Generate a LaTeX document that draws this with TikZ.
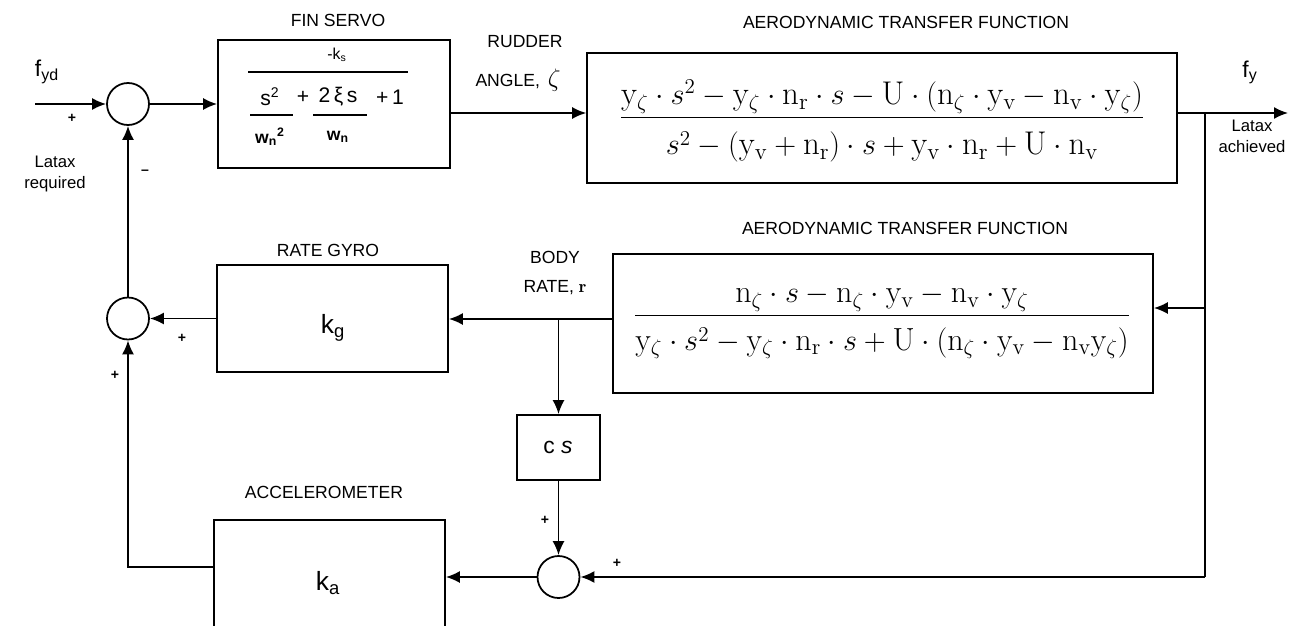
\documentclass[tikz,border=0pt]{standalone}
\usepackage{amsmath}
\usepackage{fontspec}
\setsansfont{Liberation Sans}
\usetikzlibrary{arrows.meta}
\newcommand{\rmy}[1]{\mathrm{y}_{#1}}
\newcommand{\rmn}[1]{\mathrm{n}_{#1}}
\tikzset{
  sig/.style={-{Latex[length=2.8mm,width=2.4mm]},line width=1pt},
  lin/.style={line width=1pt},
  blk/.style={draw,line width=1pt,inner sep=0pt},
  sumc/.style={draw,circle,line width=1pt,minimum size=8.4mm,inner sep=0pt},
  lab/.style={font=\sffamily\fontsize{10}{12}\selectfont,inner sep=0pt},
  sml/.style={font=\sffamily\fontsize{9.5}{12}\selectfont,inner sep=0pt,align=center},
  pm/.style={font=\sffamily\bfseries\fontsize{8}{8}\selectfont,inner sep=0pt},
  srv/.style={font=\sffamily\fontsize{12}{12}\selectfont,inner sep=0pt},
}

\begin{document}
\begin{tikzpicture}[x=0.02cm,y=-0.02cm]
  \clip (0,0) rectangle (1300,625);
  % blocks
  \node[blk,minimum width=4.64cm,minimum height=2.56cm] (servo) at (334,104) {};
  \node[blk,minimum width=11.8cm,minimum height=2.6cm] (aeroA) at (882,118) {};
  \node[blk,minimum width=10.8cm,minimum height=2.78cm] (aeroB) at (883,323.5) {};
  \node[blk,minimum width=4.62cm,minimum height=2.14cm] (gyro) at (332.5,318.5) {};
  \node[blk,minimum width=1.66cm,minimum height=1.3cm] (cs) at (558.5,447.5) {};
  \node[blk,minimum width=4.62cm,minimum height=2.4cm] (acc) at (329.5,580) {};
  \node[sumc] (sum1) at (128,104) {};
  \node[sumc] (sum2) at (128,318.5) {};
  \node[sumc] (sum3) at (558.5,577) {};
  % titles
  \node[lab] (tservo) at (338,20) {FIN SERVO};
  \node[lab] (taeroA) at (906,22) {AERODYNAMIC TRANSFER FUNCTION};
  \node[lab] (taeroB) at (905,228) {AERODYNAMIC TRANSFER FUNCTION};
  \node[lab] (tgyro) at (328,250) {RATE GYRO};
  \node[lab] (tacc) at (324,492) {ACCELEROMETER};
  \node[lab] (trud1) at (525,42) {RUDDER};
  \node[lab] (trud2) at (518,80) {ANGLE,\, {\fontsize{14}{14}\selectfont$\zeta$}};
  \node[lab] (tbody1) at (555,257) {BODY};
  \node[lab] (tbody2) at (555,288) {RATE, $\mathbf{r}$};
  \node[font=\sffamily\fontsize{13}{14}\selectfont,inner sep=0pt] (tfyd) at (47,72) {f\textsubscript{yd}};
  \node[font=\sffamily\fontsize{13}{14}\selectfont,inner sep=0pt] (tfy) at (1250,72) {f\textsubscript{y}};
  \node[sml] (treq) at (55,174) {Latax\\required};
  \node[sml] (tach) at (1252,136) {Latax\\achieved};
  % fin servo contents
  \node[font=\sffamily\fontsize{9}{9}\selectfont,inner sep=0pt] (ks) at (337,55) {-k\textsubscript{s}};
  \coordinate (fl1) at (248,72); \coordinate (fl2) at (408,72);
  \draw[lin] (fl1) -- (fl2);
  \node[srv] (sq) at (270,97) {s\textsuperscript{2}};
  \node[srv] (p1) at (303,97) {+};
  \node[srv] (xs) at (338,97) {2\,ξ\,s};
  \node[srv] (p2) at (390,97) {+\,1};
  \coordinate (fa1) at (250,115); \coordinate (fa2) at (293,115);
  \coordinate (fb1) at (313,115); \coordinate (fb2) at (367,115);
  \draw[lin] (fa1) -- (fa2);
  \draw[lin] (fb1) -- (fb2);
  \node[font=\sffamily\bfseries\fontsize{10}{10}\selectfont,inner sep=0pt] (wn2) at (270,137) {w\textsubscript{n}\textsuperscript{2}};
  \node[font=\sffamily\bfseries\fontsize{10}{10}\selectfont,inner sep=0pt] (wn) at (338,137) {w\textsubscript{n}};
  % transfer functions
  \node[inner sep=0pt,font=\fontsize{18.7}{21}\selectfont] (fA) at (882,121)
    {$\dfrac{\rmy{\zeta}\cdot s^2-\rmy{\zeta}\cdot\rmn{\mathrm{r}}\cdot s-\mathrm{U}\cdot(\rmn{\zeta}\cdot\rmy{\mathrm{v}}-\rmn{\mathrm{v}}\cdot\rmy{\zeta})}{\rule{0pt}{1.0em}s^2-(\rmy{\mathrm{v}}+\rmn{\mathrm{r}})\cdot s+\rmy{\mathrm{v}}\cdot\rmn{\mathrm{r}}+\mathrm{U}\cdot\rmn{\mathrm{v}}}$};
  \node[inner sep=0pt,font=\fontsize{18.2}{20}\selectfont] (fB) at (882,322)
    {$\dfrac{\rmn{\zeta}\cdot s-\rmn{\zeta}\cdot\rmy{\mathrm{v}}-\rmn{\mathrm{v}}\cdot\rmy{\zeta}}{\rule{0pt}{0.95em}\rmy{\zeta}\cdot s^2-\rmy{\zeta}\cdot\rmn{\mathrm{r}}\cdot s+\mathrm{U}\cdot(\rmn{\zeta}\cdot\rmy{\mathrm{v}}-\rmn{\mathrm{v}}\rmy{\zeta})}$};
  \node[font=\sffamily\fontsize{15}{15}\selectfont,inner sep=0pt] (kg) at (333,328) {k\textsubscript{g}};
  \node[font=\sffamily\fontsize{15}{15}\selectfont,inner sep=0pt] (ka) at (328,583) {k\textsubscript{a}};
  \node[font=\sffamily\fontsize{13}{13}\selectfont,inner sep=0pt] (csl) at (558,447) {c \textit{s}};
  % signs
  \node[pm] (pa) at (72,118) {+};
  \node[pm] (ma) at (145,172) {--};
  \node[pm] (pb) at (182,338) {+};
  \node[pm] (pc) at (115,375) {+};
  \node[pm] (pd) at (545,520) {+};
  \node[pm] (pe) at (617,563) {+};
  % signal lines
  \coordinate (in) at (35,104);
  \coordinate (rud) at (450,113);
  \coordinate (out) at (1288,113);
  \coordinate (tap) at (1205,113);
  \coordinate (fbk) at (1205,308);
  \coordinate (bot) at (1205,577);
  \coordinate (br) at (558.5,319);
  \coordinate (accl) at (128,567);
  \draw[sig] (in) -- (sum1.west);
  \draw[sig] (sum1.east) -- (servo.west);
  \draw[sig] (rud) -- (rud -| aeroA.west);
  \draw[sig] (aeroA.east |- rud) -- (out);
  \draw[lin] (tap) -- (bot);
  \draw[sig] (fbk) -- (fbk -| aeroB.east);
  \draw[sig] (bot) -- (sum3.east);
  \draw[sig] (br -| aeroB.west) -- (br -| gyro.east);
  \draw[sig] (br) -- (cs.north);
  \draw[sig] (cs.south) -- (sum3.north);
  \draw[sig] (sum3.west) -- (sum3.west -| acc.east);
  \draw[sig] (gyro.west) -- (sum2.east);
  \draw[sig] (acc.west |- accl) -- (accl) -- (sum2.south);
  \draw[sig] (sum2.north) -- (sum1.south);
\end{tikzpicture}
\end{document}
